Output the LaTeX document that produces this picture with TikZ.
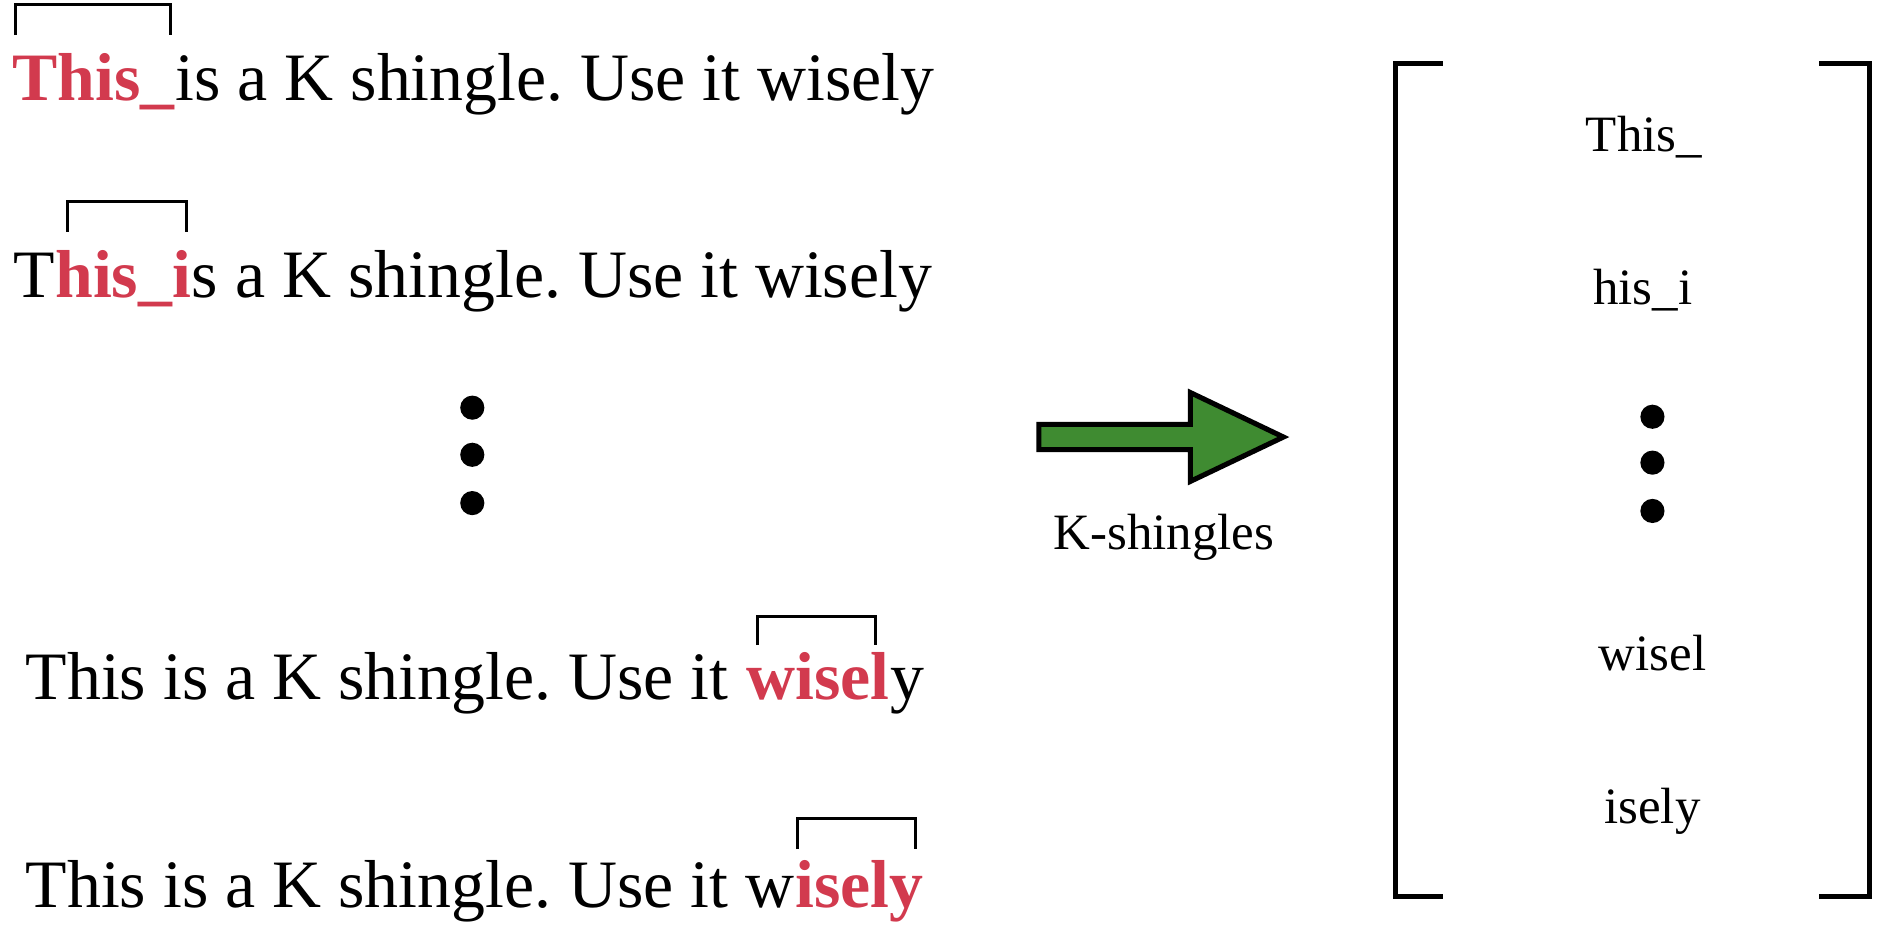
\documentclass[tikz,border=0pt]{standalone}
\usepackage{fontspec}
\setmainfont{Liberation Serif}
\usetikzlibrary{positioning}
\frenchspacing
\definecolor{shred}{RGB}{210,58,78}
\definecolor{shgreen}{RGB}{63,139,49}
\tikzset{
  sent/.style ={inner sep=0pt, anchor=base west, font=\fontsize{31.95}{38}\selectfont},
  hit/.style  ={sent, text=shred, font=\fontsize{31.95}{38}\selectfont\bfseries},
  shg/.style  ={inner sep=0pt, anchor=base, font=\fontsize{24}{29}\selectfont},
  kbr/.style  ={line width=1.4pt},                 % window over the text
  mbr/.style  ={line width=2.4pt},                 % matrix bracket
  fatarrow/.style={draw=black, fill=shgreen, line width=2.4pt, line join=miter},
}
\begin{document}
\begin{tikzpicture}
  \useasboundingbox (0,0) rectangle (31.36,-15.44);
  % sentences, sliding window
  \node[hit]  (l1a) at (0.20,-1.656) {This\_};
  \node[sent] (l1b) at (l1a.base east) {is a K shingle. Use it wisely};
  \node[sent] (l2a) at (0.21,-4.918) {T};
  \node[hit]  (l2b) at (l2a.base east) {his\_i};
  \node[sent] (l2c) at (l2b.base east) {s a K shingle. Use it wisely};
  \node[sent] (l3a) at (0.42,-11.59) {This is a K shingle. Use it};
  \node[hit]  (l3b) at ([xshift=8pt]l3a.base east) {wisel};
  \node[sent] (l3c) at (l3b.base east) {y};
  \node[sent] (l4a) at (0.42,-15.02) {This is a K shingle. Use it w};
  \node[hit]  (l4b) at (l4a.base east) {isely};
  \draw[kbr] (0.26,-0.58) |- (2.82,-0.07) -- (2.82,-0.58);
  \draw[kbr] (1.12,-3.84) |- (3.08,-3.34) -- (3.08,-3.84);
  \draw[kbr] (12.54,-10.68) |- (14.50,-10.20) -- (14.50,-10.68);
  \draw[kbr] (13.20,-14.06) |- (15.16,-13.56) -- (15.16,-14.06);
  \foreach \y in {-6.75,-7.53,-8.33}
    \fill (7.82,\y) circle (0.2);
  % arrow
  \draw[fatarrow] (17.20,-7.027) -- (19.71,-7.027) -- (19.71,-6.50) -- (21.25,-7.236)
    -- (19.71,-7.97) -- (19.71,-7.445) -- (17.20,-7.445) -- cycle;
  \node[shg] (klbl) at (19.27,-9.09) {K-shingles};
  % shingle matrix
  \draw[mbr] (23.89,-1.052) -| (23.10,-14.84) -- (23.89,-14.84);
  \draw[mbr] (30.12,-1.052) -| (30.96,-14.84) -- (30.12,-14.84);
  \node[shg] (m1) at (27.22,-2.516) {This\_};
  \node[shg] (m2) at (27.20,-5.04) {his\_i};
  \foreach \y in {-6.90,-7.66,-8.46}
    \fill (27.36,\y) circle (0.2);
  \node[shg] (m3) at (27.36,-11.10) {wisel};
  \node[shg] (m4) at (27.36,-13.64) {isely};
\end{tikzpicture}
\end{document}
